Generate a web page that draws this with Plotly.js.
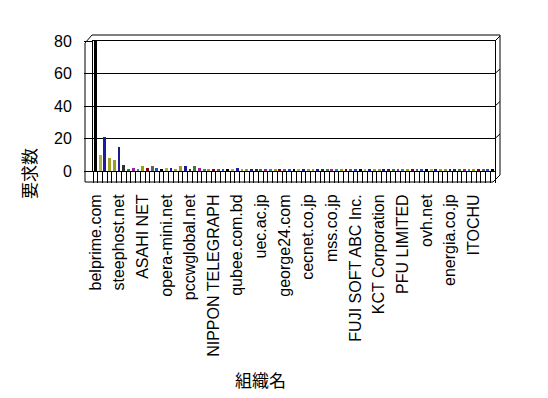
<!DOCTYPE html>
<html><head><meta charset="utf-8">
<script src="https://cdn.plot.ly/plotly-3.0.1.min.js"></script>
<style>html,body{margin:0;padding:0;background:#fff}</style>
</head><body><div id="chart" style="width:548px;height:398px"></div>
<script>
// ---- data ----
const labelIndex = [0,5,10,15,20,25,30,35,40,45,50,55,60,65,70,75,80];
const labelledOrgs = ["belprime.com","steephost.net","ASAHI NET","opera-mini.net","pccwglobal.net",
  "NIPPON TELEGRAPH","qubee.com.bd","uec.ac.jp","george24.com","cecnet.co.jp","mss.co.jp",
  "FUJI SOFT ABC Inc.","KCT Corporation","PFU LIMITED","ovh.net","energia.co.jp","ITOCHU"];
const requests = [80,10,21,8,7,15,4,1,2,1,3,2,3,2,1,2,2,1,3,3,
                  1,3,2,1,1,1,1,1,1,1,2,1,1,1,1,1,1,1,1,1,
                  1,1,1,1,1,1,1,1,1,1,1,1,1,1,1,1,1,1,1,1,
                  1,1,1,1,1,1,1,1,1,1,1,1,1,1,1,1,1,1,1,1,
                  1,1,1,1,1];
const palette = ['#000000','#b0b048','#1c1ca0','#a0a028','#9c9c20','#1c1c90','#303030',
                 '#3a7a3a','#a020a0','#2090a0','#a0a000','#800020','#606060','#2050c0'];

// ---- layout geometry (pixels) ----
const W=548,H=398,L=93,PR=504,R=495,T=41,B=171;
const px = x => (x-L)/(PR-L);
const py = y => (B-y)/(B-T);
function seg(x0,y0,x1,y1){return {type:'line',xref:'paper',yref:'paper',x0:px(x0),y0:py(y0),x1:px(x1),y1:py(y1),line:{color:'#000',width:1}};}

const xs = requests.map((v,i)=>i);
const n = requests.length;
const trace = {type:'bar', x:xs, y:requests, width:0.6,
  marker:{color:xs.map(i=>palette[i%palette.length]), line:{width:0}}, hoverinfo:'skip'};
// invisible carrier so the label axis (front edge of the floor, in perspective) is drawn
const labelCarrier = {type:'scatter', x:labelIndex, y:labelIndex.map(()=>0), xaxis:'x2',
  mode:'markers', marker:{opacity:0}, hoverinfo:'skip'};

const shapes = [
  seg(85,43,85,182), seg(85,182,493,182), seg(493,182,500,175), seg(500,35,500,175),
  seg(92,35,500,35), seg(85,43,92,35), seg(495,41,500,36)
];
[73.5,106,138.5].forEach(y=>shapes.push(seg(495,y,500,y-4.5)));

const labelLeft = 93.6;   // pixel of category -0.5 on the front edge
const layout = {
  width:W, height:H, autosize:false,
  margin:{l:L, r:W-PR, t:T, b:H-B, pad:0},
  paper_bgcolor:'#fff', plot_bgcolor:'#fff', showlegend:false, bargap:0,
  font:{family:'Liberation Sans', color:'#000'},
  xaxis:{type:'linear', domain:[0, px(R)], range:[-0.5, n-0.5], showticklabels:false,
    ticks:'', minor:{tick0:-0.5, dtick:1, ticks:'outside', ticklen:11, tickcolor:'#000', tickwidth:1, showgrid:false},
    showgrid:false, zeroline:false, showline:true, mirror:true, linecolor:'#000', linewidth:1, fixedrange:true},
  xaxis2:{type:'linear', overlaying:'x', anchor:'y', side:'bottom', domain:[px(labelLeft), 1],
    range:[-0.5, n-0.5], tickmode:'array', tickvals:labelIndex, ticktext:labelledOrgs, tickangle:-90,
    ticks:'outside', ticklen:11, tickcolor:'rgba(0,0,0,0)', ticklabelstandoff:5,
    tickfont:{family:'Liberation Sans', size:16, color:'#000'},
    showgrid:false, zeroline:false, showline:false, fixedrange:true},
  yaxis:{range:[0,80], dtick:20, tick0:0, ticks:'outside', ticklen:8, tickcolor:'#000',
    ticklabelstandoff:9, tickfont:{family:'Liberation Sans', size:16},
    showgrid:true, gridcolor:'#000', gridwidth:1, zeroline:false, showline:true, mirror:true,
    linecolor:'#000', linewidth:1, fixedrange:true},
  shapes:shapes,
  annotations:[
    {text:'要求数', xref:'paper', yref:'paper', x:px(28), y:py(174), textangle:-90, showarrow:false,
     xanchor:'center', yanchor:'middle', font:{family:'Noto Sans CJK JP', size:17, color:'#000'}},
    {text:'組織名', xref:'paper', yref:'paper', x:px(260), y:py(379), showarrow:false,
     xanchor:'center', yanchor:'middle', font:{family:'Noto Sans CJK JP', size:17, color:'#000'}}
  ]
};
Plotly.newPlot('chart',[trace, labelCarrier],layout,{staticPlot:true, displayModeBar:false});
</script></body></html>
